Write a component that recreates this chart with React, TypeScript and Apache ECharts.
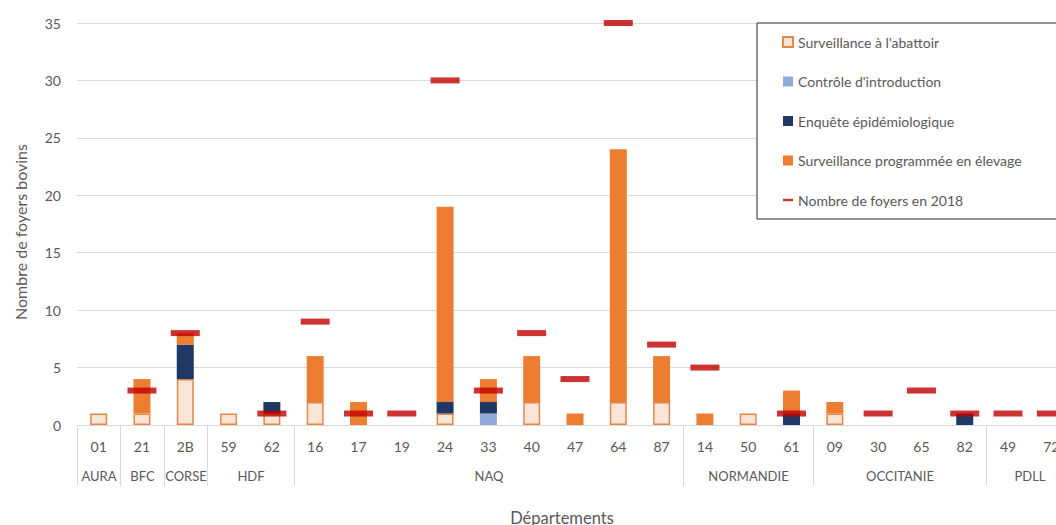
import React, { useEffect, useRef } from "react";
import * as echarts from "echarts";

const departements = ["01", "21", "2B", "59", "62", "16", "17", "19", "24", "33", "40", "47", "64", "87", "14", "50", "61", "09", "30", "65", "82", "49", "72"];
const abattoir = [1, 1, 4, 1, 1, 2, null, null, 1, null, 2, null, 2, 2, null, 1, null, 1, null, null, null, null, null];
const controle = [null, null, null, null, null, null, null, null, null, 1, null, null, null, null, null, null, null, null, null, null, null, null, null];
const enquete = [null, null, 3, null, 1, null, null, null, 1, 1, null, null, null, null, null, null, 1, null, null, null, 1, null, null];
const programmee = [null, 3, 1, null, null, 4, 2, null, 17, 2, 4, 1, 22, 4, 1, null, 2, 1, null, null, null, null, null];
const foyers2018 = [null, 3, 8, null, 1, 9, 1, 1, 30, 3, 8, 4, 35, 7, 5, null, 1, null, 1, 3, 1, 1, 1];
const regionNames = ["AURA", "BFC", "CORSE", "HDF", "NAQ", "NORMANDIE", "OCCITANIE", "PDLL"];
const regionStart = [0, 1, 2, 3, 5, 14, 17, 21];
const regionEnd = [0, 1, 2, 4, 13, 16, 20, 22];
const yTicks = { min: 0, max: 35, interval: 5 };

const FONT = "Lato, 'Open Sans', sans-serif";
const GREY = "#595959";

export default function App() {
  const ref = useRef<HTMLDivElement>(null);
  useEffect(() => {
    if (!ref.current) return;
    const chart = echarts.init(ref.current, null, { renderer: "svg" });
    const option: any = {
      animation: false,
      textStyle: { fontFamily: FONT },
      grid: { left: 77, top: 23, bottom: 100, right: 27 },
      legend: {
        orient: "vertical",
        left: 757,
        top: 23,
        padding: [12, 40, 12, 25],
        itemWidth: 10,
        itemHeight: 10,
        itemGap: 25.5,
        backgroundColor: "#fff",
        borderColor: "#262626",
        borderWidth: 1,
        textStyle: { color: GREY, fontSize: 14, fontFamily: FONT },
        data: [
          { name: "Surveillance à l'abattoir", icon: "rect" },
          { name: "Contrôle d'introduction", icon: "rect" },
          { name: "Enquête épidémiologique", icon: "rect" },
          { name: "Surveillance programmée en élevage", icon: "rect" },
          { name: "Nombre de foyers en 2018", icon: "path://M0,0h10v2.5H0z" },
        ],
      },
      xAxis: {
        type: "category",
        data: departements,
        axisLine: { lineStyle: { color: "#D9D9D9" } },
        axisTick: { show: false },
        axisLabel: { color: GREY, fontSize: 14, margin: 14, fontFamily: FONT, interval: 0 },
      },
      yAxis: {
        type: "value",
        min: yTicks.min,
        max: yTicks.max,
        interval: yTicks.interval,
        axisLabel: { color: GREY, fontSize: 14, margin: 16, fontFamily: FONT },
        splitLine: { lineStyle: { color: "#D9D9D9" } },
        axisLine: { show: false },
        axisTick: { show: false },
      },
      graphic: [
        {
          type: "text",
          x: 20,
          y: 232,
          rotation: Math.PI / 2,
          style: { text: "Nombre de foyers bovins", fill: GREY, font: `16px ${FONT}`, textAlign: "center", textVerticalAlign: "middle" },
        },
        {
          type: "text",
          x: 562,
          y: 518,
          style: { text: "Départements", fill: GREY, font: `16.5px ${FONT}`, textAlign: "center", textVerticalAlign: "middle" },
        },
      ],
      series: [
        {
          name: "Surveillance à l'abattoir",
          type: "bar",
          stack: "a",
          barWidth: 17,
          data: abattoir,
          itemStyle: { color: "#FBE5D6", borderColor: "#E2884A", borderWidth: 1.5 },
        },
        {
          name: "Contrôle d'introduction",
          type: "bar",
          stack: "a",
          barWidth: 17,
          data: controle,
          itemStyle: { color: "#8FAADC" },
        },
        {
          name: "Enquête épidémiologique",
          type: "bar",
          stack: "a",
          barWidth: 17,
          data: enquete,
          itemStyle: { color: "#203864" },
        },
        {
          name: "Surveillance programmée en élevage",
          type: "bar",
          stack: "a",
          barWidth: 17,
          data: programmee,
          itemStyle: { color: "#ED7D31" },
        },
        {
          name: "Nombre de foyers en 2018",
          type: "scatter",
          data: foyers2018,
          symbol: "rect",
          symbolSize: [29, 6],
          itemStyle: { color: "#C00000" },
          z: 5,
        },
        {
          name: "regions",
          type: "custom",
          clip: false,
          silent: true,
          data: regionNames.map((n, i) => ({ name: n, value: [regionStart[i], regionEnd[i]] })),
          encode: { x: [0, 1] },
          renderItem: (params: any, api: any) => {
            const s = api.value(0);
            const e = api.value(1);
            const band = api.size([1, 0])[0];
            const p0 = api.coord([s, 0]);
            const p1 = api.coord([e, 0]);
            const x0 = Math.round(p0[0] - band / 2) + 0.5;
            const x1 = Math.round(p1[0] + band / 2) + 0.5;
            const y = p0[1];
            return {
              type: "group",
              children: [
                { type: "line", shape: { x1: x0, y1: y, x2: x0, y2: y + 61 }, style: { stroke: "#D9D9D9", lineWidth: 1 } },
                { type: "line", shape: { x1: x1, y1: y, x2: x1, y2: y + 61 }, style: { stroke: "#D9D9D9", lineWidth: 1 } },
                {
                  type: "text",
                  x: (x0 + x1) / 2,
                  y: y + 51,
                  style: { text: regionNames[params.dataIndex], fill: GREY, font: `13px ${FONT}`, textAlign: "center", textVerticalAlign: "middle" },
                },
              ],
            };
          },
        },
      ],
    };
    chart.setOption(option);
    return () => chart.dispose();
  }, []);
  return (
    <div style={{ position: "fixed", left: 0, top: 0, width: 1056, height: 525, overflow: "hidden", background: "#fff" }}>
      <div ref={ref} style={{ width: 1100, height: 525 }} />
    </div>
  );
}
